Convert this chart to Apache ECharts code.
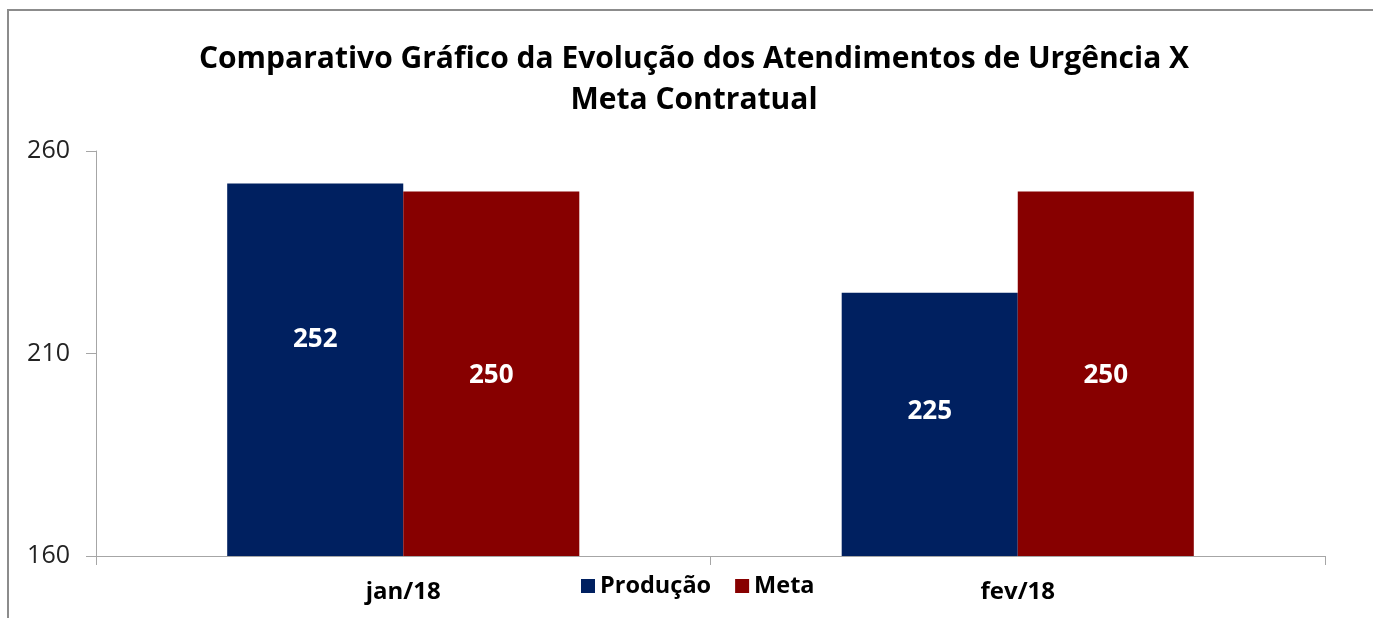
<!DOCTYPE html>
<html>
<head>
<meta charset="utf-8">
<script src="https://cdn.jsdelivr.net/npm/echarts@6/dist/echarts.min.js"></script>
<style>
    html, body { margin: 0; padding: 0; background: #fff; }
    #el { width: 1373px; height: 618px; }
</style>
</head>
<body>
<div id="el"></div>
<script>
let meses = ['jan/18', 'fev/18']
let producao = [252, 225]
let meta = [250, 250]
let yTicks = [160, 210, 260]

// deslocamento dos rótulos, como no original
let offsetProducao = [[0, -30], [0, -13]]
let offsetMeta = [[0, 2], [0, 2]]

let fonte = '"Open Sans", "Noto Sans", sans-serif'

let myChart = echarts.init(document.querySelector('#el'))
myChart.setOption({
    animation: false,
    graphic: [{
        type: 'polyline',
        shape: {points: [[8, 618], [8, 10], [1373, 10]]},
        style: {stroke: '#8c8c8c', lineWidth: 2, fill: null}
    }],
    title: {
        text: 'Comparativo Gráfico da Evolução dos Atendimentos de Urgência X\nMeta Contratual',
        left: 689,
        top: 34,
        textAlign: 'center',
        textStyle: {
            fontFamily: fonte,
            fontWeight: 'bold',
            fontSize: 30,
            lineHeight: 41,
            color: '#000'
        }
    },
    legend: {
        data: ['Produção', 'Meta'],
        left: 576,
        top: 569,
        itemWidth: 14,
        itemHeight: 14,
        itemGap: 24,
        icon: 'rect',
        textStyle: {
            fontFamily: fonte,
            fontWeight: 'bold',
            fontSize: 23.5,
            color: '#000'
        }
    },
    grid: {left: 96, right: 48, top: 151, bottom: 62},
    xAxis: {
        type: 'category',
        data: meses,
        axisLine: {lineStyle: {color: '#a6a6a6', width: 1}},
        axisTick: {show: true, length: 9, interval: 0, lineStyle: {color: '#a6a6a6'}},
        axisLabel: {
            margin: 24,
            fontFamily: fonte,
            fontWeight: 'bold',
            fontSize: 24,
            color: '#000'
        }
    },
    yAxis: {
        type: 'value',
        min: yTicks[0],
        max: yTicks[yTicks.length - 1],
        interval: yTicks[1] - yTicks[0],
        splitLine: {show: false},
        axisLine: {show: true, lineStyle: {color: '#a6a6a6', width: 1}},
        axisTick: {show: true, length: 10, lineStyle: {color: '#a6a6a6'}},
        axisLabel: {
            margin: 26,
            fontFamily: fonte,
            fontSize: 25,
            color: '#222'
        }
    },
    series: [
        {
            name: 'Produção',
            type: 'bar',
            barGap: '0%',
            barCategoryGap: '42.7%',
            itemStyle: {color: '#002060'},
            data: producao.map((v, i) => ({
                value: v,
                label: {offset: offsetProducao[i]}
            })),
            label: {
                show: true,
                position: 'inside',
                color: '#fff',
                fontFamily: fonte,
                fontWeight: 'bold',
                fontSize: 26
            }
        },
        {
            name: 'Meta',
            type: 'bar',
            itemStyle: {color: '#870000'},
            data: meta.map((v, i) => ({
                value: v,
                label: {offset: offsetMeta[i]}
            })),
            label: {
                show: true,
                position: 'inside',
                color: '#fff',
                fontFamily: fonte,
                fontWeight: 'bold',
                fontSize: 26
            }
        }
    ]
})
</script>
</body>
</html>
